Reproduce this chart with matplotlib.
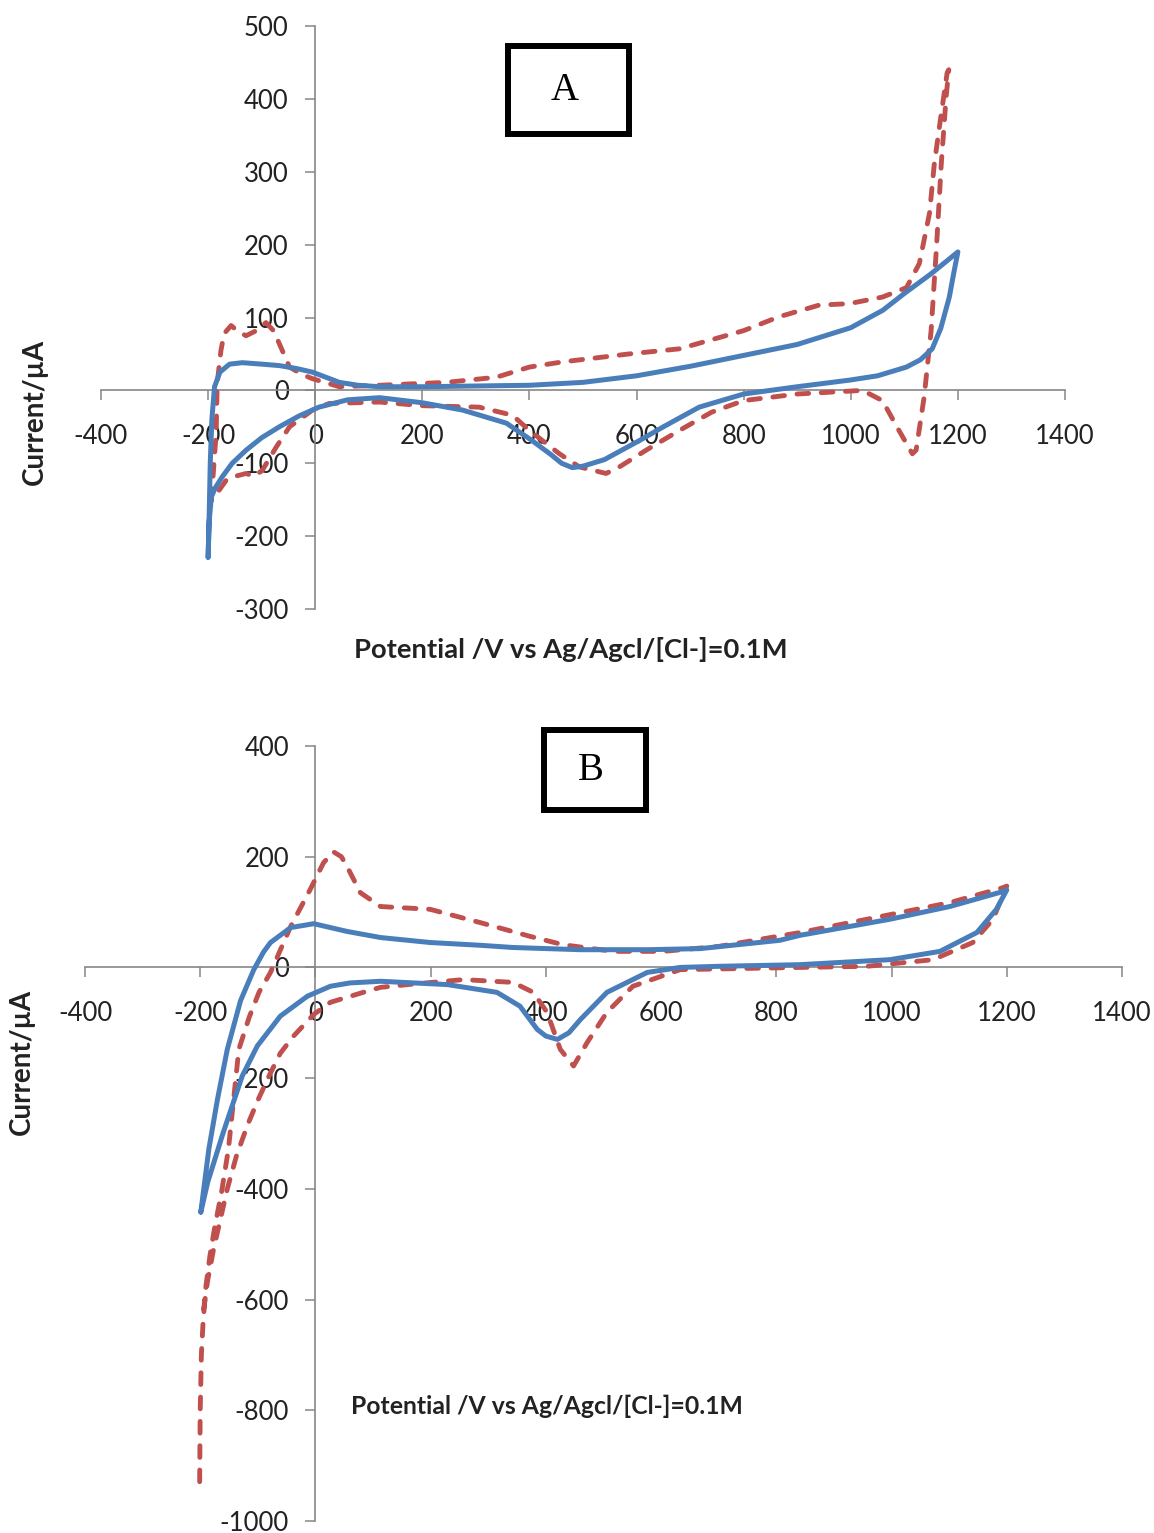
import matplotlib
matplotlib.use("Agg")
import matplotlib.pyplot as plt
from matplotlib.patches import Rectangle

# ---------------- Data ----------------
# Panel A: blue (solid) cyclic voltammogram
a_blue_x = [-200, -198, -196, -193, -188, -178, -160, -136, -100, -67, -35, -5, 20, 45, 80, 120,
            200, 300, 400, 500, 600, 700, 800, 900, 1000, 1060, 1100, 1150, 1200,
            1192, 1184, 1168, 1152, 1130, 1104, 1050, 997, 900, 800, 717, 650, 605, 540,
            500, 480, 460, 440, 405, 357, 275, 200, 120, 60, 7, -30, -67, -100, -129,
            -155, -174, -186, -194, -198, -200]
a_blue_y = [-229, -170, -100, -40, 5, 25, 36, 38, 36, 34, 30, 25, 18, 11, 7, 5,
            5, 6, 7, 11, 20, 33, 48, 63, 86, 110, 133, 160, 190,
            160, 128, 85, 57, 42, 32, 20, 14, 5, -5, -23, -50, -69, -95,
            -104, -106, -100, -88, -69, -45, -27, -17, -10, -13, -23, -35, -50, -65, -82,
            -100, -119, -133, -146, -180, -229]

# Panel A: red (dashed)
a_red_x = [-194, -190, -185, -183, -176, -170, -157, -143, -129, -110, -92, -78, -67, -48, -25, -5,
           45, 120, 245, 338, 400, 461, 586, 680, 800, 866, 941, 997, 1059, 1104, 1128, 1147,
           1156, 1169, 1180, 1183,
           1178, 1169, 1160, 1150, 1137, 1122, 1115, 1090, 1059, 1022, 900, 800, 740, 680,
           618, 568, 543, 493, 456, 400, 368, 306, 200, 120, 26, -5, -48, -73, -99, -115,
           -129, -150, -166, -188, -194]
a_red_y = [-151, -110, -59, 10, 55, 78, 89, 80, 75, 82, 93, 82, 64, 32, 22, 16,
           5, 7, 11, 18, 32, 39, 50, 57, 82, 101, 117, 119, 128, 141, 174, 243,
           311, 380, 436, 440,
           402, 311, 196, 82, -9, -82, -87, -55, -14, 0, -5, -14, -30, -55,
           -82, -105, -114, -105, -87, -55, -34, -23, -21, -16, -18, -27, -50, -78, -110, -118,
           -114, -118, -123, -146, -151]

# Panel B: blue (solid)
b_blue_x = [-199, -192, -185, -170, -153, -130, -107, -90, -78, -43, -3, 55, 113, 199, 286, 343,
            460, 576, 668, 806, 841, 997, 1101, 1193, 1200,
            1182, 1148, 1084, 997, 841, 700, 633, 576, 506, 460, 440, 420, 400, 385, 355, 315,
            229, 113, 60, 26, -14, -61, -101, -127, -160, -187, -199]
b_blue_y = [-442, -385, -328, -238, -148, -60, -4, 28, 45, 72, 79, 65, 54, 45, 40, 36,
            32, 32, 34, 49, 58, 87, 110, 137, 140,
            105, 63, 29, 14, 5, 2, 0, -9, -45, -94, -118, -130, -124, -112, -70, -45,
            -31, -25, -28, -34, -52, -88, -142, -196, -298, -388, -442]

# Panel B: red (dashed)
b_red_x = [-201, -200, -198, -195, -190, -183, -175, -163, -151, -142, -133, -115, -98, -78, -43, -9,
           14, 31, 45, 55, 78, 113, 199, 286, 373, 430, 517, 603, 700, 841, 957, 1101, 1193, 1200,
           1176, 1141, 1072, 957, 841, 633, 551, 506, 472, 448, 425, 402, 378, 343, 257, 170,
           113, 83, 26, -3, -38, -61, -80, -100, -118, -137, -153, -165, -177, -187, -194]
b_red_y = [-929, -800, -700, -640, -575, -520, -470, -406, -328, -238, -148, -90, -45, -9, 74, 141,
           189, 209, 200, 182, 135, 110, 105, 81, 56, 41, 29, 29, 38, 63, 87, 117, 144, 147,
           87, 45, 14, 2, 0, -4, -34, -81, -135, -178, -148, -81, -45, -27, -22, -30,
           -36, -45, -63, -85, -124, -155, -195, -240, -285, -340, -400, -455, -510, -565, -617]

x_ticks = [-400, -200, 0, 200, 400, 600, 800, 1000, 1200, 1400]
a_y_ticks = [-300, -200, -100, 0, 100, 200, 300, 400, 500]
b_y_ticks = [-1000, -800, -600, -400, -200, 0, 200, 400]

x_label = "Potential /V vs Ag/Agcl/[Cl-]=0.1M"
y_label = "Current/\u00b5A"

# ---------------- Style ----------------
W, H = 1154, 1533
BLUE = "#4A7EBB"
RED = "#C0504D"
AXC = "#868686"
TXT = "#222222"
plt.rcParams["font.family"] = ["Lato", "DejaVu Sans"]
plt.rcParams["axes.unicode_minus"] = False

fig = plt.figure(figsize=(W / 100, H / 100), dpi=100)


def fx(px):
    return px / W


def fy(py):
    return 1 - py / H


def style_axes(ax, yticks):
    for s in ("top", "right"):
        ax.spines[s].set_visible(False)
    for s in ("left", "bottom"):
        ax.spines[s].set_position(("data", 0))
        ax.spines[s].set_color(AXC)
        ax.spines[s].set_linewidth(1.2)
    ax.set_xticks(x_ticks)
    ax.set_yticks(yticks)
    ax.tick_params(axis="both", direction="out", length=7, width=1.1, color=AXC,
                   labelcolor=TXT, labelsize=18.5)
    ax.tick_params(axis="x", pad=17)
    ax.tick_params(axis="y", pad=12)
    ax.set_facecolor("none")


def draw(ax, bx, by, rx, ry):
    ax.plot(rx, ry, color=RED, lw=3.5, linestyle=(0, (2.4, 2.6)),
            dash_capstyle="round", dash_joinstyle="round", clip_on=False, zorder=3)
    ax.plot(bx, by, color=BLUE, lw=3.6, solid_joinstyle="round",
            solid_capstyle="round", clip_on=False, zorder=4)


# Panel A
axA = fig.add_axes([fx(101), fy(609), (1065 - 101) / W, (609 - 26) / H])
axA.set_xlim(-400, 1400)
axA.set_ylim(-300, 500)
style_axes(axA, a_y_ticks)
draw(axA, a_blue_x, a_blue_y, a_red_x, a_red_y)

# Panel B
axB = fig.add_axes([fx(85), fy(1521), (1122 - 85) / W, (1521 - 746) / H])
axB.set_xlim(-400, 1400)
axB.set_ylim(-1000, 400)
style_axes(axB, b_y_ticks)
draw(axB, b_blue_x, b_blue_y, b_red_x, b_red_y)

# Axis titles
fig.text(fx(571), fy(649), x_label, ha="center", va="center", fontsize=19.7,
         fontweight="bold", color=TXT)
fig.text(fx(547), fy(1406), x_label, ha="center", va="center", fontsize=17.8,
         fontweight="bold", color=TXT)
fig.text(fx(35), fy(412), y_label, ha="center", va="center", rotation=90, fontsize=20,
         fontweight="bold", color=TXT)
fig.text(fx(22), fy(1062), y_label, ha="center", va="center", rotation=90, fontsize=20,
         fontweight="bold", color=TXT)

# Panel letter boxes
for (x0, y0, x1, y1, letter) in [(508, 46, 629, 134, "A"), (544, 730, 646, 810, "B")]:
    fig.add_artist(Rectangle((fx(x0), fy(y1)), (x1 - x0) / W, (y1 - y0) / H,
                             transform=fig.transFigure, fill=False, lw=4.3,
                             edgecolor="black", joinstyle="miter"))
    fig.text(fx((x0 + x1) / 2 - 4), fy((y0 + y1) / 2), letter, ha="center", va="center",
             fontsize=28, family=["Liberation Serif", "DejaVu Serif"], color="black")

fig.savefig("out.png", dpi=100)
